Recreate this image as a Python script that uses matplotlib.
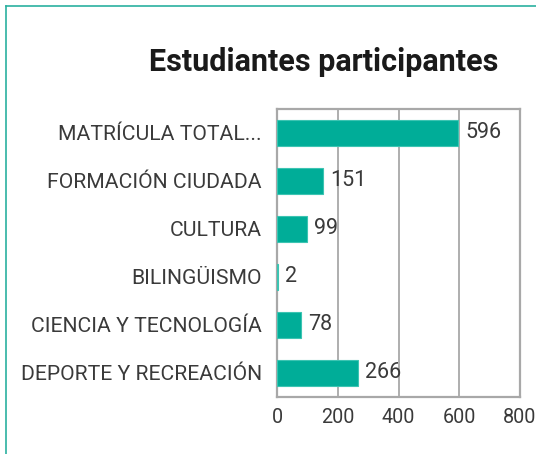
import matplotlib.pyplot as plt
from matplotlib.lines import Line2D

categorias = ["MATRÍCULA TOTAL...", "FORMACIÓN CIUDADA", "CULTURA",
              "BILINGÜISMO", "CIENCIA Y TECNOLOGÍA", "DEPORTE Y RECREACIÓN"]
valores = [596, 151, 99, 2, 78, 266]
ticks_x = [0, 200, 400, 600, 800]

plt.rcParams['font.family'] = ['Roboto', 'DejaVu Sans']

W, H = 536, 454
fig = plt.figure(figsize=(W / 100, H / 100), dpi=100)
ax = fig.add_axes([277 / W, 1 - 397 / H, 243 / W, 288 / H])

pos = list(range(len(categorias)))[::-1]
ax.barh(pos, valores, height=0.56, color='#00ad98', edgecolor='#3cc4b2',
        linewidth=0.8, zorder=3)
for p, v in zip(pos, valores):
    ax.annotate(str(v), (v, p), xytext=(5, 0), textcoords='offset points',
                va='center', ha='left', fontsize=15.5,
                color='#3a3a3a', zorder=4)

ax.set_xlim(0, 800)
ax.set_ylim(-0.5, 5.5)
ax.set_xticks(ticks_x)
ax.set_yticks(pos)
ax.set_yticklabels(categorias)
ax.tick_params(axis='both', length=0, labelcolor='#3a3a3a')
ax.tick_params(axis='y', pad=11, labelsize=15.2)
ax.tick_params(axis='x', pad=8, labelsize=14.2)
ax.grid(axis='x', color='#a8a8a8', linewidth=1.3, zorder=0)
for s in ax.spines.values():
    s.set_color('#a8a8a8')
    s.set_linewidth(1.6)

fig.text(324 / W, 1 - 62 / H, "Estudiantes participantes", ha='center',
         va='center', fontsize=22, fontweight='bold', color='#1a1a1a')

# marco verde
fig.add_artist(Line2D([6 / W, 6 / W], [0, 1 - 6 / H], transform=fig.transFigure,
                      color='#2bb0a0', linewidth=1.2))
fig.add_artist(Line2D([6 / W, 1], [1 - 6 / H, 1 - 6 / H], transform=fig.transFigure,
                      color='#2bb0a0', linewidth=1.2))

fig.savefig('out.png', dpi=100)
